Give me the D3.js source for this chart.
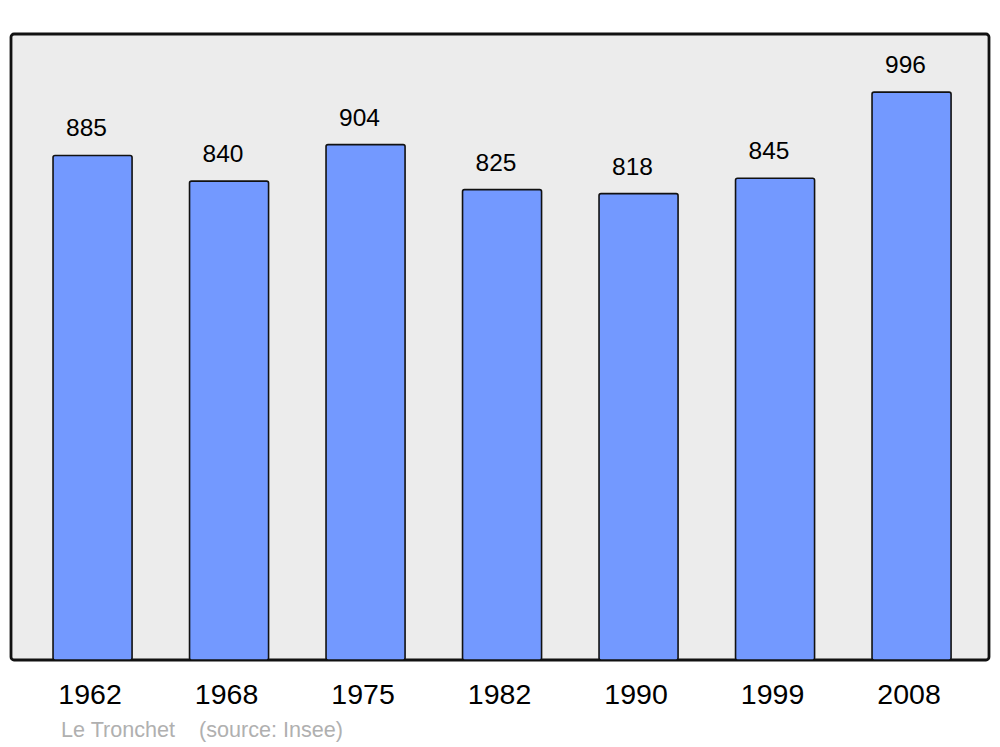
<!DOCTYPE html>
<html><head><meta charset="utf-8">
<script src="https://cdn.jsdelivr.net/npm/d3@7"></script>
<style>body{margin:0;background:#fff}svg{display:block}</style>
</head><body>
<svg id="c" width="1000" height="747"></svg>
<script>
const years = ["1962","1968","1975","1982","1990","1999","2008"];
const population = [885, 840, 904, 825, 818, 845, 996];
const commune = "Le Tronchet";
const source = "(source: Insee)";

const svg = d3.select("#c");
const panel = {x0: 11, x1: 989, y0: 34, y1: 660};

svg.append("rect")
  .attr("x", panel.x0).attr("y", panel.y0)
  .attr("width", panel.x1 - panel.x0).attr("height", panel.y1 - panel.y0)
  .attr("rx", 3).attr("ry", 3)
  .attr("fill", "#ececec").attr("stroke", "#111").attr("stroke-width", 2.8);

const x = d3.scaleBand().domain(years).range([24.3, 979.8])
  .paddingInner(0.421).paddingOuter(0.2105);
const y = d3.scaleLinear().domain([0, 1098]).range([panel.y1, panel.y0]);

svg.append("g").selectAll("rect").data(years).join("rect")
  .attr("x", d => x(d))
  .attr("y", (d, i) => y(population[i]))
  .attr("width", x.bandwidth())
  .attr("height", (d, i) => y(0) - y(population[i]))
  .attr("rx", 2).attr("ry", 2)
  .attr("fill", "#7399ff").attr("stroke", "#111").attr("stroke-width", 1.6);

svg.append("g").selectAll("text").data(years).join("text")
  .attr("x", d => x(d) + x.bandwidth() / 2 - 6)
  .attr("y", (d, i) => y(population[i]) - 19)
  .attr("text-anchor", "middle")
  .attr("font-family", "Liberation Sans, Arial, sans-serif")
  .attr("font-size", 24.5).attr("fill", "#000")
  .text((d, i) => population[i]);

const xAxis = svg.append("g").attr("transform", `translate(0,${panel.y1})`)
  .call(d3.axisBottom(x).tickSize(0).tickPadding(0));
xAxis.select(".domain").remove();
xAxis.selectAll("text")
  .attr("dy", null).attr("y", 44).attr("x", -2.5)
  .attr("font-family", "Liberation Sans, Arial, sans-serif")
  .attr("font-size", 28.5).attr("fill", "#000");

const foot = svg.append("g").attr("font-family", "Liberation Sans, Arial, sans-serif")
  .attr("font-size", 21.6).attr("fill", "#b0b0b0");
foot.append("text").attr("x", 61).attr("y", 737).text(commune);
foot.append("text").attr("x", 199).attr("y", 737).text(source);
</script>
</body></html>
